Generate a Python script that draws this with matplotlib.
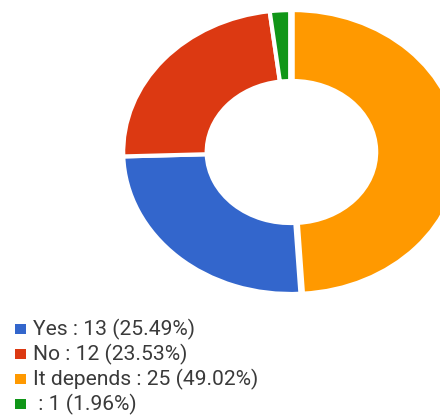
import matplotlib
matplotlib.use("Agg")
import matplotlib.pyplot as plt
from matplotlib.patches import Rectangle

# data (legend order)
labels = ["Yes", "No", "It depends", ""]
counts = [13, 12, 25, 1]
colors = ["#3366cc", "#dc3912", "#ff9900", "#109618"]

# drawing order clockwise from 12 o'clock
draw_order = [2, 0, 1, 3]

total = sum(counts)
pcts = [c / total * 100 for c in counts]

plt.rcParams['font.family'] = ['Roboto', 'DejaVu Sans']

fig = plt.figure(figsize=(4.4, 4.15), dpi=100)
fig.patch.set_facecolor("white")

# donut (slightly stretched horizontally like the screenshot)
ax = fig.add_axes([0.280, 0.2916, 0.759, 0.684])
ax.pie([counts[i] for i in draw_order],
       colors=[colors[i] for i in draw_order],
       startangle=90, counterclock=False,
       explode=[0.015, 0, 0, 0],
       radius=1.0,
       wedgeprops=dict(width=0.5, edgecolor="white", linewidth=3))
ax.set_aspect("auto")
ax.set_xlim(-1, 1)
ax.set_ylim(-1, 1)
ax.axis("off")

# legend
y0 = 415 - 329
step = 25
for i, (lab, c, p, col) in enumerate(zip(labels, counts, pcts, colors)):
    y = y0 - i * step
    fig.patches.append(Rectangle((15 / 440, (y - 5) / 415), 11 / 440, 10 / 415,
                                 transform=fig.transFigure, facecolor=col,
                                 edgecolor="none"))
    fig.text(33 / 440, y / 415, f"{lab} : {c} ({p:.2f}%)", fontsize=15.1,
             color="#3a3a3a", va="center", ha="left")

fig.savefig("out.png", dpi=100)
